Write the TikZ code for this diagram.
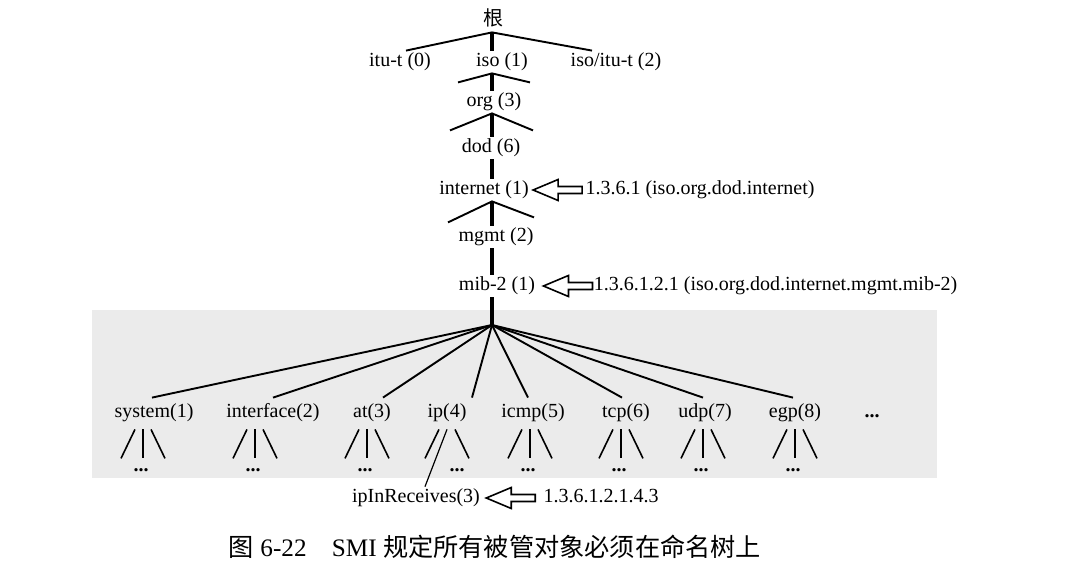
\documentclass[tikz,border=0pt]{standalone}
\usepackage{fontspec}
\setmainfont{Liberation Serif}
\newfontfamily\cjk{Noto Sans CJK SC}

% 空心箭头
\newcommand\oidarrow[1]{%
  \draw[line width=0.8pt, line join=miter, fill=white] (#1) -- ++(25,-10.5) -- ++(0,7) -- ++(24,0)
    -- ++(0,7) -- ++(-24,0) -- ++(0,7) -- cycle;}

\begin{document}
\begin{tikzpicture}[x=0.5pt, y=-0.5pt,
  lbl/.style={inner sep=1pt, text height=7pt, text depth=2pt},
  dots/.style={inner sep=0pt, font=\bfseries},
  spine/.style={line width=1.6pt},
  branch/.style={line width=0.95pt},
  leaf/.style={line width=0.8pt}]

\useasboundingbox (0,0) rectangle (1088,571);

% 灰色底
\fill[black!8] (92,310) rectangle (937,478);
\coordinate (axis) at (492,0);

% 上层结点
\node[lbl, font=\cjk] (root) at (493,21) {根};
\node[lbl] (itu) at (400,62) {itu-t (0)};
\node[lbl] (iso) at (502,62) {iso (1)};
\node[lbl] (joint) at (616,62) {iso/itu-t (2)};
\node[lbl] (org) at (494,102) {org (3)};
\node[lbl] (dod) at (491,148) {dod (6)};
\node[lbl] (inet) at (484,190) {internet (1)};
\node[lbl] (mgmt) at (496,237) {mgmt (2)};
\node[lbl] (mib) at (497,286) {mib-2 (1)};

% 主干
\draw[branch] (root.south -| axis) -- ([xshift=3pt]itu.north);
\draw[branch] (root.south -| axis) -- ([xshift=-12pt]joint.north);
\draw[spine] (root.south -| axis) -- (iso.north -| axis);
\draw[spine] (iso.south -| axis) -- (org.north -| axis);
\draw[branch] ([shift={(-34,9)}]iso.south -| axis) -- (iso.south -| axis) -- ++(38,9);
\draw[spine] (org.south -| axis) -- (dod.north -| axis);
\draw[branch] ([shift={(-42,17)}]org.south -| axis) -- (org.south -| axis) -- ++(41,17);
\draw[spine] (dod.south -| axis) -- (inet.north -| axis);
\draw[spine] (inet.south -| axis) -- (mgmt.north -| axis);
\draw[branch] ([shift={(-44,21)}]inet.south -| axis) -- (inet.south -| axis) -- ++(42,16);
\draw[spine] (mgmt.south -| axis) -- (mib.north -| axis);

% 对象标识符
\oidarrow{[xshift=1pt]inet.east}
\node[lbl, anchor=west] (oidinet) at ([xshift=26pt]inet.east) {1.3.6.1 (iso.org.dod.internet)};
\oidarrow{[xshift=3pt]mib.east}
\node[lbl, anchor=west] (oidmib) at ([xshift=27pt]mib.east) {1.3.6.1.2.1 (iso.org.dod.internet.mgmt.mib-2)};

% mib-2 下的组
\coordinate (fan) at (492,325);
\draw[spine] (mib.south -| axis) -- (fan);
\foreach \name/\x/\txt in {system/154/system(1), interface/273/interface(2), attab/372/at(3),
    ipg/447/ip(4), icmp/533/icmp(5), tcp/626/tcp(6), udp/705/udp(7), egp/795/egp(8)}
  \node[lbl] (\name) at (\x,413) {\txt};
\node[dots] (more) at (872,416) {...};

\foreach \name/\ex in {system/-2, interface/0, attab/11, ipg/25, icmp/-5, tcp/-4, udp/-2, egp/-2}
  \draw[branch] (fan) -- ([shift={(\ex,-4)}]\name.north);

% 子树
\foreach \name/\dx in {system/-11, interface/-18, attab/-5, icmp/-3, tcp/-5, udp/-2, egp/0} {
  \draw[leaf] ([shift={(\dx-8,5)}]\name.south) -- ++(-14,29);
  \draw[leaf] ([shift={(\dx,5)}]\name.south) -- ++(0,29);
  \draw[leaf] ([shift={(\dx+8,5)}]\name.south) -- ++(14,29);
  \node[dots] (dots\name) at ([shift={(\dx-2,46)}]\name.south) {...};
}

% ipInReceives
\node[lbl] (ipin) at (416,498) {ipInReceives(3)};
\draw[leaf] ([shift={(-8,5)}]ipg.south) -- ++(-14,29);
\draw[leaf] ([shift={(8,5)}]ipg.south) -- ++(14,29);
\draw[line width=0.6pt] ([shift={(0,5)}]ipg.south) -- ([xshift=4.5pt]ipin.north);
\node[dots] (dotsipg) at ([shift={(10,46)}]ipg.south) {...};
\oidarrow{[xshift=2pt]ipin.east}
\node[lbl, anchor=west] (oidipin) at ([xshift=29.5pt]ipin.east) {1.3.6.1.2.1.4.3};

% 图题
\node[lbl, font=\fontsize{12.6}{15}\selectfont] (cap) at (495,552) {{\cjk 图} 6-22\quad SMI {\cjk 规定所有被管对象必须在命名树上}};

\end{tikzpicture}
\end{document}
